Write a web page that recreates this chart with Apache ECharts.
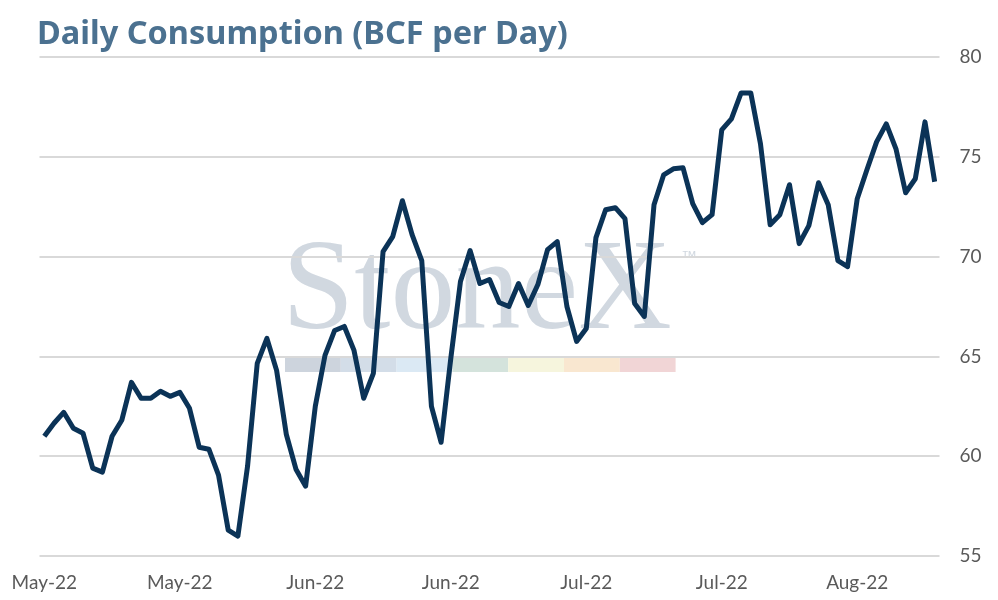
<!DOCTYPE html>
<html>
<head>
<meta charset="utf-8">
<script src="https://cdn.jsdelivr.net/npm/echarts@6/dist/echarts.min.js"></script>
<style>
html,body{margin:0;padding:0;background:#fff;}
#chart{width:998px;height:600px;}
</style>
</head>
<body>
<div id="chart"></div>
<script>
const titleText = "Daily Consumption (BCF per Day)";
const startDate = [2022, 4, 10]; // May 10, 2022
const monthNames = ["Jan","Feb","Mar","Apr","May","Jun","Jul","Aug","Sep","Oct","Nov","Dec"];
const consumption = [
  61.0, 61.65, 62.2, 61.4, 61.15, 59.4, 59.2, 61.0, 61.8, 63.7,
  62.9, 62.9, 63.25, 63.0, 63.2, 62.4, 60.45, 60.35, 59.05, 56.3,
  56.0, 59.5, 64.65, 65.9, 64.3, 61.1, 59.35, 58.5, 62.5, 65.05,
  66.3, 66.5, 65.3, 62.9, 64.15, 70.25, 71.0, 72.8, 71.1, 69.8,
  62.5, 60.7, 64.9, 68.75, 70.3, 68.65, 68.85, 67.7, 67.5, 68.65,
  67.55, 68.6, 70.35, 70.75, 67.5, 65.75, 66.4, 70.95, 72.35, 72.45,
  71.9, 67.65, 67.0, 72.6, 74.1, 74.4, 74.45, 72.65, 71.7, 72.1,
  76.35, 76.9, 78.2, 78.2, 75.65, 71.6, 72.1, 73.6, 70.65, 71.55,
  73.7, 72.6, 69.8, 69.5, 72.9, 74.35, 75.75, 76.65, 75.4, 73.2,
  73.9, 76.75, 73.75
];
const yTicks = [55, 60, 65, 70, 75, 80];
const watermarkColors = ["#cdd4dd", "#d3dde8", "#dbe9f4", "#d4e3dc", "#f6f5dd", "#f9e7d0", "#f1d5d6"];

const categories = [];
for (let i = 0; i < consumption.length; i++) {
  const d = new Date(startDate[0], startDate[1], startDate[2] + i);
  categories.push(monthNames[d.getMonth()] + "-" + String(d.getFullYear()).slice(2));
}

const chart = echarts.init(document.getElementById('chart'));

const bars = watermarkColors.map((c, i) => ({
  type: 'rect',
  shape: { x: 285 + i * 55.8, y: 357, width: 55.8, height: 15 },
  style: { fill: c },
  z: -10
}));

chart.setOption({
  backgroundColor: '#ffffff',
  animation: false,
  title: {
    text: titleText,
    left: 32,
    top: 13,
    textStyle: {
      fontFamily: 'Noto Sans',
      fontWeight: 'bold',
      fontSize: 32.5,
      color: '#4b7190'
    }
  },
  graphic: [
    {
      type: 'text',
      left: 282,
      top: 229,
      z: -10,
      style: {
        text: 'StoneX',
        font: '130px "Liberation Serif", serif',
        fill: '#d1d8e0'
      }
    },
    {
      type: 'text',
      left: 681,
      top: 250,
      z: -10,
      style: {
        text: '™',
        font: '16px "Liberation Sans", sans-serif',
        fill: '#d1d8e0'
      }
    }
  ].concat(bars),
  grid: {
    left: 39.5,
    right: 58.5,
    top: 57,
    bottom: 44,
    containLabel: false
  },
  xAxis: {
    type: 'category',
    data: categories,
    boundaryGap: true,
    axisLine: { show: false },
    axisTick: { show: false },
    axisLabel: {
      interval: 13,
      margin: 17,
      fontFamily: 'Lato',
      fontSize: 19,
      color: '#5a5a5a'
    },
    splitLine: { show: false }
  },
  yAxis: {
    type: 'value',
    position: 'right',
    min: yTicks[0],
    max: yTicks[yTicks.length - 1],
    interval: 5,
    axisLine: { show: false },
    axisTick: { show: false },
    axisLabel: {
      margin: 20,
      fontFamily: 'Lato',
      fontSize: 19,
      color: '#5a5a5a'
    },
    splitLine: { lineStyle: { color: '#d9d9d9', width: 2 } }
  },
  series: [{
    type: 'line',
    data: consumption,
    showSymbol: false,
    symbol: 'none',
    lineStyle: { color: '#0b3357', width: 5, join: 'round' },
    z: 5
  }]
});
</script>
</body>
</html>
